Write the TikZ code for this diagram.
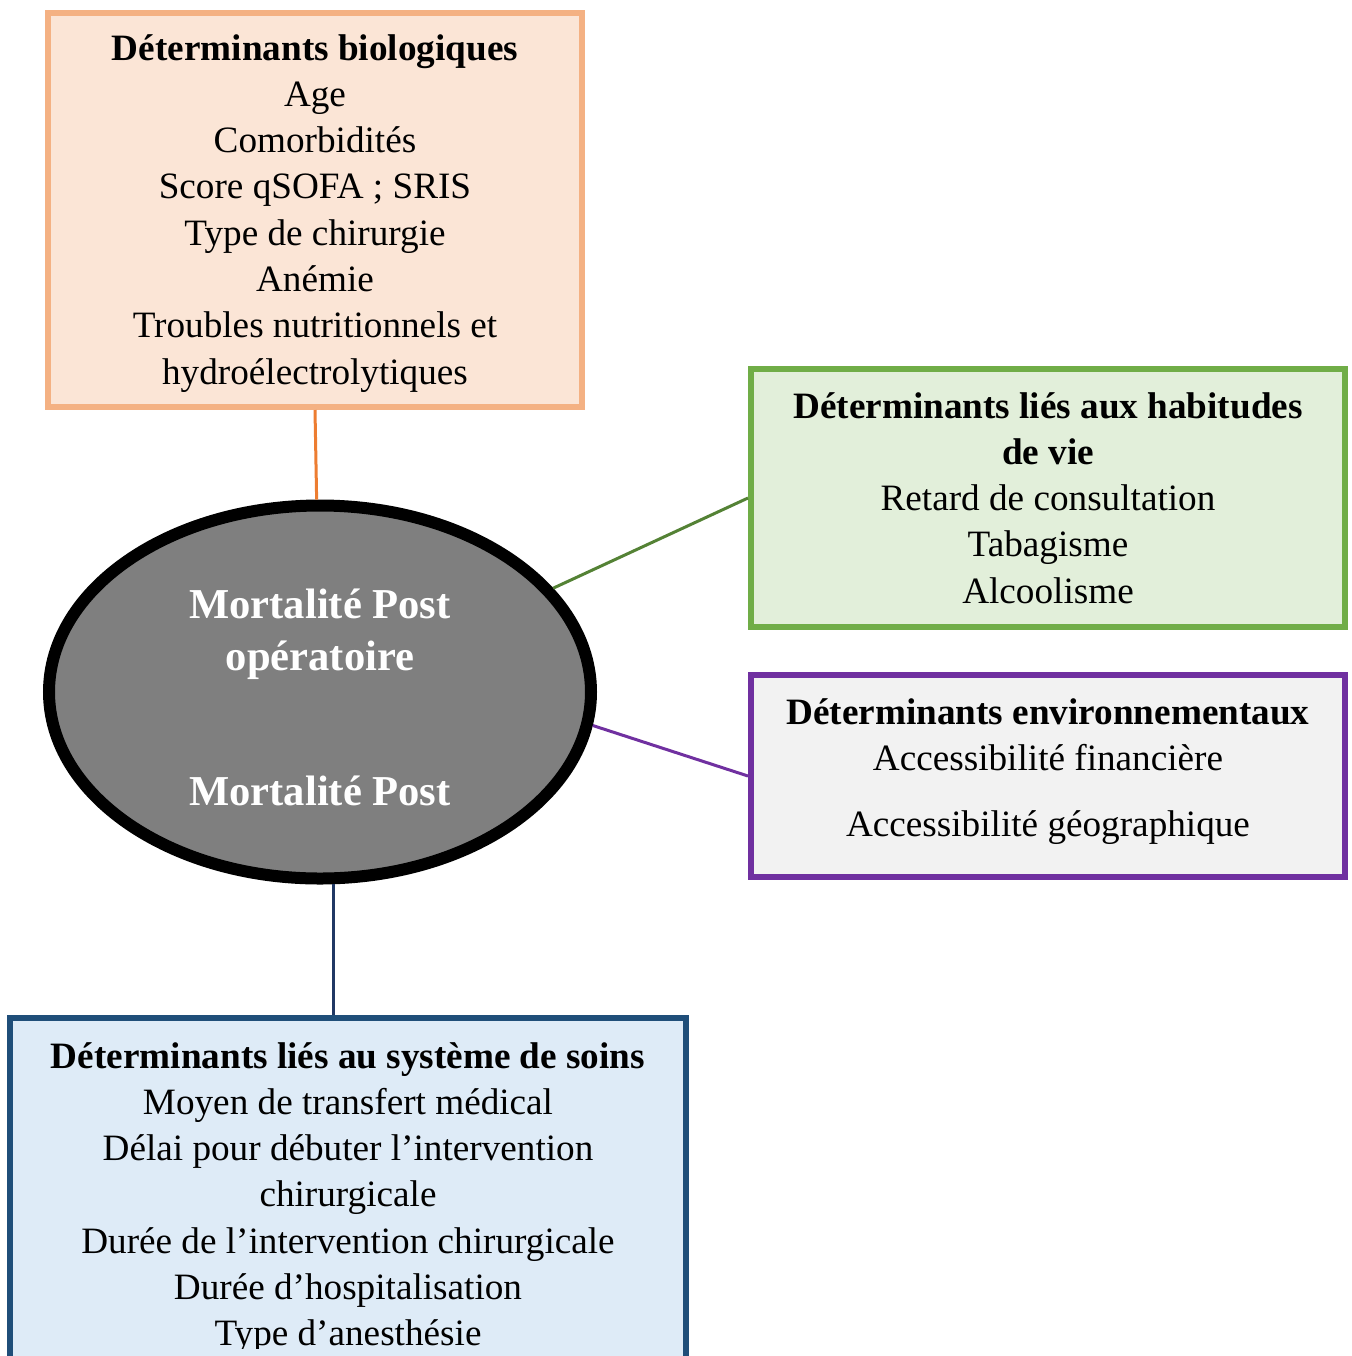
\documentclass[tikz,border=0pt]{standalone}
\usepackage{fontspec}
\setmainfont{Liberation Serif}
\usetikzlibrary{shapes.geometric}
\definecolor{bioFill}{HTML}{FBE5D6}
\definecolor{bioDraw}{HTML}{F4B183}
\definecolor{bioLine}{HTML}{ED7D31}
\definecolor{vieFill}{HTML}{E2EFDA}
\definecolor{vieDraw}{HTML}{70AD47}
\definecolor{vieLine}{HTML}{548235}
\definecolor{envFill}{HTML}{F2F2F2}
\definecolor{envDraw}{HTML}{7030A0}
\definecolor{soinFill}{HTML}{DEEBF7}
\definecolor{soinDraw}{HTML}{1F4E79}
\definecolor{soinLine}{HTML}{203864}
\definecolor{ellFill}{HTML}{7F7F7F}
\begin{document}
\begin{tikzpicture}[x=0.5pt,y=-0.5pt,
  boxstyle/.style={draw, line width=3pt, rectangle, inner sep=0pt},
  bodytext/.style={anchor=base, inner sep=0pt, font=\fontsize{18.6pt}{23.15pt}\selectfont},
  centertext/.style={anchor=base, inner sep=0pt, text=white, font=\fontsize{21.3pt}{26pt}\selectfont\bfseries},
  link/.style={line width=1.5pt}]
\useasboundingbox (0,0) rectangle (1352,1356);
\clip (0,0) rectangle (1352,1356);

% boxes
\node[boxstyle, draw=bioDraw, fill=bioFill, minimum width=267pt, minimum height=197pt] (bio) at (315,210) {};
\node[boxstyle, draw=vieDraw, fill=vieFill, minimum width=297pt, minimum height=129pt] (vie) at (1048,498) {};
\node[boxstyle, draw=envDraw, fill=envFill, minimum width=297pt, minimum height=101pt] (env) at (1048,776) {};
\node[boxstyle, draw=soinDraw, fill=soinFill, minimum width=338pt, minimum height=191pt] (soin) at (348,1209) {};

% central ellipse
\node[ellipse, draw=black, fill=ellFill, line width=6pt, inner sep=0pt, minimum width=271pt, minimum height=186.5pt] (mort) at (320,692) {};

% connectors
\draw[link, draw=bioLine] (bio.south) -- (mort.91);
\draw[link, draw=vieLine] (mort.24) -- (vie.west);
\draw[link, draw=envDraw] (mort.-7) -- (env.west);
\draw[link, draw=soinLine] (mort.-86) -- (mort.-86 |- soin.north);

% texts
\node[bodytext] (biot) at (315,60) {\begin{tabular}[t]{@{}c@{}}
\textbf{Déterminants biologiques}\\
Age\\
Comorbidités\\
Score qSOFA ; SRIS\\
Type de chirurgie\\
Anémie\\
Troubles nutritionnels et\\
hydroélectrolytiques
\end{tabular}};

\node[bodytext] (viet) at (1048,418) {\begin{tabular}[t]{@{}c@{}}
\textbf{Déterminants liés aux habitudes}\\
\textbf{de vie}\\
Retard de consultation\\
Tabagisme\\
Alcoolisme
\end{tabular}};

\node[bodytext] (envt) at (1048,724) {\begin{tabular}[t]{@{}c@{}}
\textbf{Déterminants environnementaux}\\
Accessibilité financière\\[10pt]
Accessibilité géographique
\end{tabular}};

\begin{scope}
\clip (20,1030) rectangle (676,1348);
\node[bodytext] (soint) at (348,1068) {\begin{tabular}[t]{@{}c@{}}
\textbf{Déterminants liés au système de soins}\\
Moyen de transfert médical\\
Délai pour débuter l’intervention\\
chirurgicale\\
Durée de l’intervention chirurgicale\\
Durée d’hospitalisation\\
Type d’anesthésie
\end{tabular}};
\end{scope}

\node[centertext] (mortt) at (320,618) {\begin{tabular}[t]{@{}c@{}}
Mortalité Post\\
opératoire\\[41.5pt]
Mortalité Post
\end{tabular}};
\end{tikzpicture}
\end{document}
